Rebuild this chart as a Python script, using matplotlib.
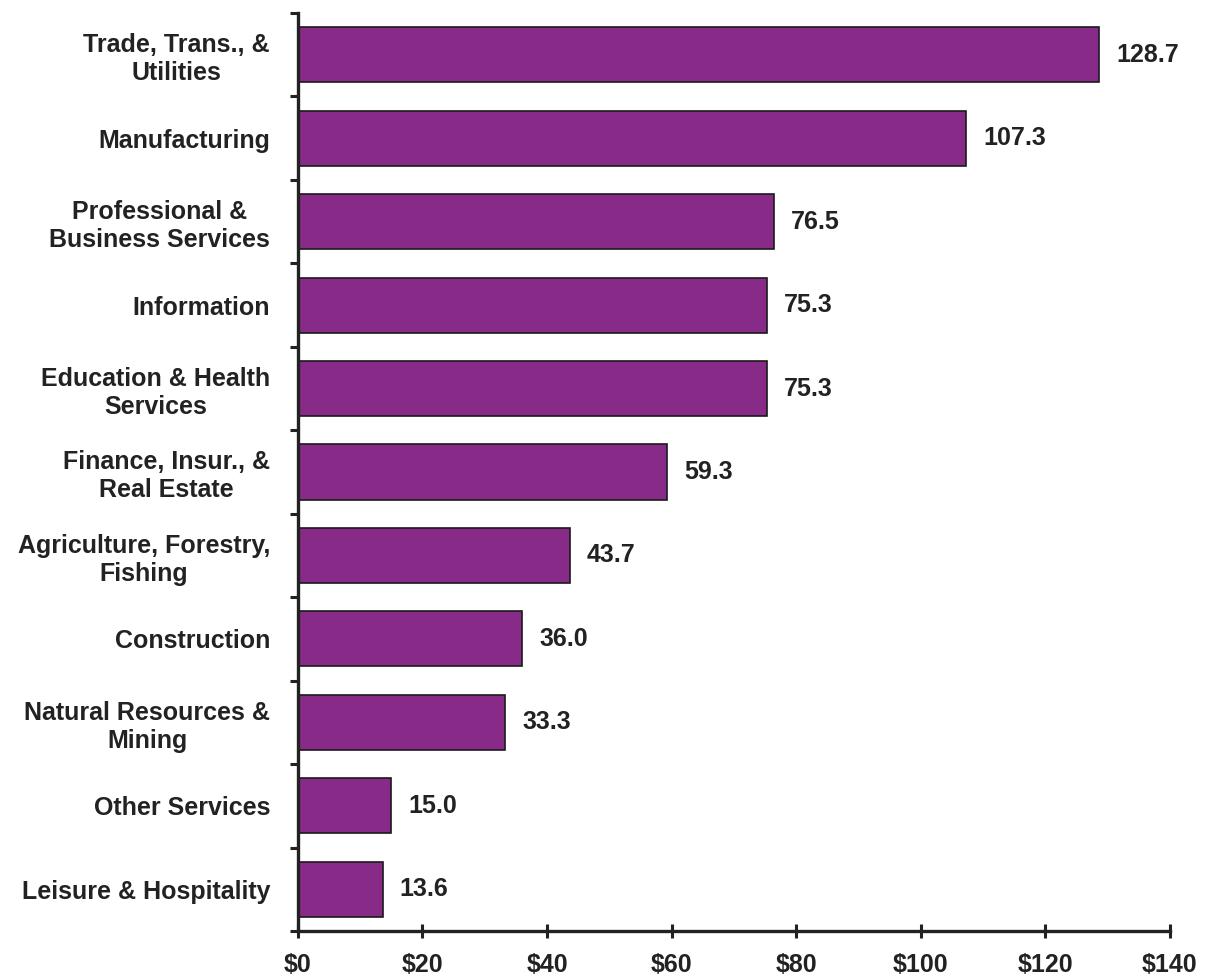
import matplotlib.pyplot as plt
from matplotlib.ticker import FixedLocator, FuncFormatter

plt.rcParams['font.family'] = ['Liberation Sans', 'DejaVu Sans']
plt.rcParams['font.weight'] = 'bold'

# industries, top to bottom
industries = [
    "Trade, Trans., &\nUtilities",
    "Manufacturing",
    "Professional &\nBusiness Services",
    "Information",
    "Education & Health\nServices",
    "Finance, Insur., &\nReal Estate",
    "Agriculture, Forestry,\nFishing",
    "Construction",
    "Natural Resources &\nMining",
    "Other Services",
    "Leisure & Hospitality",
]
values = [128.7, 107.3, 76.5, 75.3, 75.3, 59.3, 43.7, 36.0, 33.3, 15.0, 13.6]
x_ticks = [0, 20, 40, 60, 80, 100, 120, 140]

fig = plt.figure(figsize=(12.06, 9.76), dpi=100)
ax = fig.add_axes([0.247, 0.0461, 0.723, 0.9406])

pos = list(range(len(values)))[::-1]
ax.barh(pos, values, height=0.66, color='#872A88', edgecolor='#1a1a1a', linewidth=1.2)

for y, v in zip(pos, values):
    ax.annotate(f"{v:.1f}", (v, y), xytext=(17, 0), textcoords='offset pixels',
                ha='left', va='center', fontsize=18, fontweight='bold', color='#222222')

ax.set_xlim(0, 140)
ax.set_ylim(-0.5, len(values) - 0.5)

ax.xaxis.set_major_locator(FixedLocator(x_ticks))
ax.xaxis.set_major_formatter(FuncFormatter(lambda v, p: f"${v:.0f}"))
ax.tick_params(axis='x', direction='inout', length=10, width=2.2, pad=11,
               labelsize=18, color='#222222', labelcolor='#222222')

# category names sit between boundary ticks
ax.set_yticks([p + 0.5 for p in range(-1, len(values))])
ax.set_yticklabels([])
ax.set_yticks(pos, minor=True)
ax.set_yticklabels(industries, minor=True, fontsize=18, fontweight='bold',
                   color='#222222', multialignment='center')
ax.tick_params(axis='y', which='major', direction='out', length=6, width=2.2, color='#222222')
ax.tick_params(axis='y', which='minor', length=0, pad=20)

for side in ['top', 'right']:
    ax.spines[side].set_visible(False)
for side in ['left', 'bottom']:
    ax.spines[side].set_linewidth(2.4)
    ax.spines[side].set_color('#222222')

fig.savefig("out.png", dpi=100)
